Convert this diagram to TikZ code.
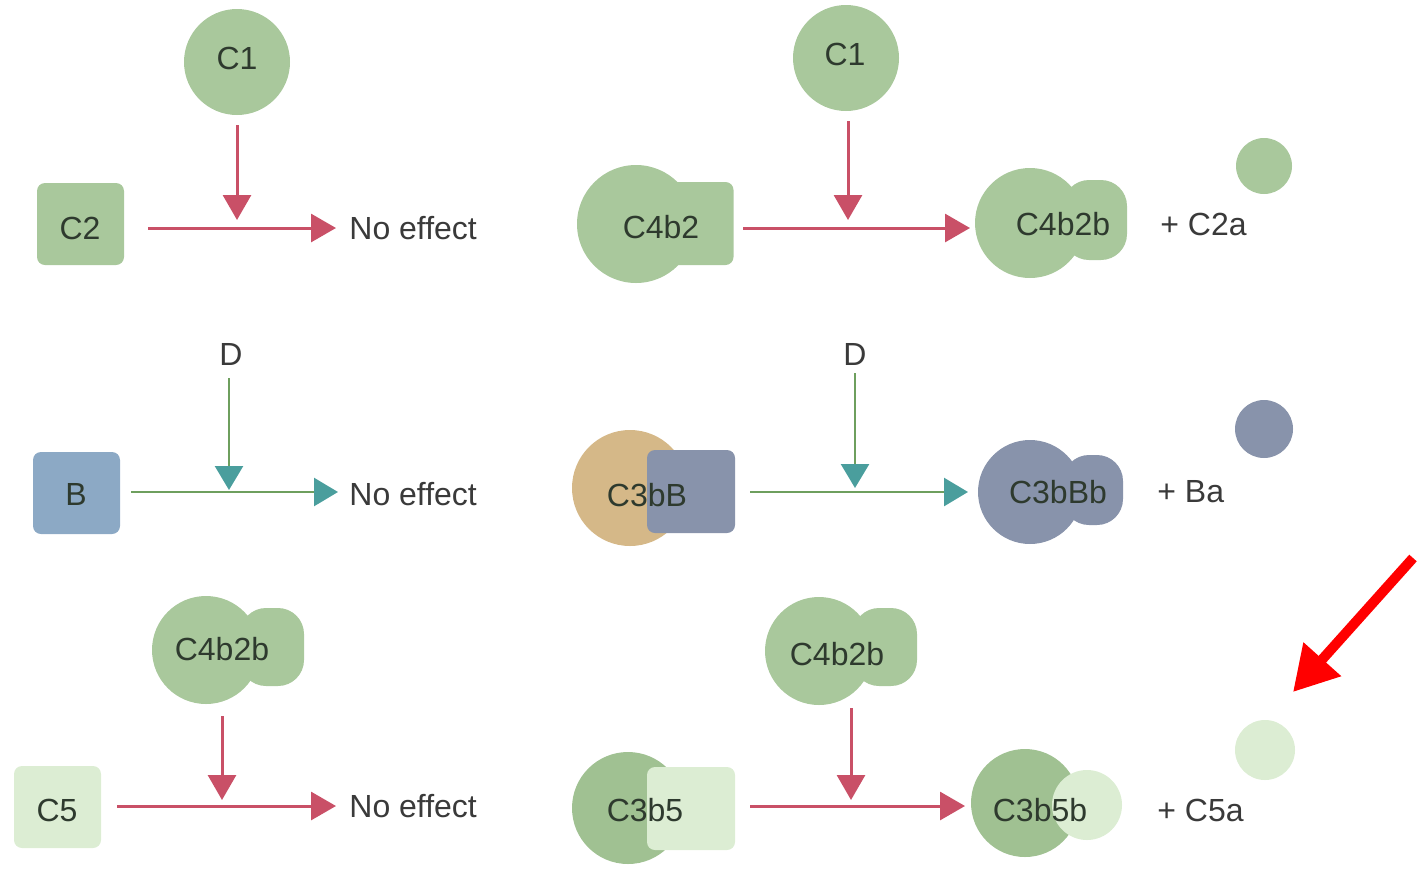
\documentclass[tikz,border=0pt]{standalone}
\usepackage{fontspec}
\setmainfont{Liberation Sans}
\usetikzlibrary{arrows.meta}
\definecolor{sage}{HTML}{A9C89C}
\definecolor{sagedark}{HTML}{A0C192}
\definecolor{lightg}{HTML}{DCEDD3}
\definecolor{slate}{HTML}{8893AB}
\definecolor{bluebox}{HTML}{8CA9C5}
\definecolor{tan}{HTML}{D5B888}
\definecolor{crim}{HTML}{C95067}
\definecolor{lgreen}{HTML}{6E9F5E}
\definecolor{teal}{HTML}{4A9E9D}
\definecolor{txt}{HTML}{3A3A3A}
\definecolor{intxt}{HTML}{2E3A2E}
\tikzset{
  blob/.style={circle,fill=#1,draw=none,inner sep=0pt},
  box/.style={rectangle,fill=#1,draw=none,rounded corners=4pt,inner sep=0pt},
  lbl/.style={text=intxt,font=\fontsize{16}{19}\selectfont,inner sep=0pt},
  plain/.style={text=txt,font=\fontsize{16}{19}\selectfont,inner sep=0pt,anchor=west},
  redarr/.style={draw=crim,line width=1.5pt,-{Triangle[length=12.5pt,width=14pt,color=crim]}},
  grnarr/.style={draw=lgreen,line width=1.3pt,-{Triangle[length=12pt,width=14pt,color=teal]}},
}
\begin{document}
\begin{tikzpicture}[x=0.5pt,y=-0.5pt]
\useasboundingbox (0,0) rectangle (1428,868);

% ---------------- Row 1 left
\node[blob=sage,minimum size=53pt] (c1a) at (237,62) {};
\node[lbl] (c1al) at (237,58) {C1};
\node[box=sage,minimum width=43.5pt,minimum height=41pt] (c2) at (80.5,224) {};
\node[lbl] (c2l) at (80,228) {C2};
\node[plain] (ne1) at (349,228) {No effect};
\coordinate (s1) at (148,228);
\coordinate (e1) at (336,228);
\coordinate (j1) at (237,220);
\draw[redarr] (s1) -- (e1);
\draw[redarr] (237,125) -- (j1);

% ---------------- Row 1 right
\node[blob=sage,minimum size=53pt] (c1b) at (846,58) {};
\node[lbl] (c1bl) at (845,54) {C1};
\node[blob=sage,minimum size=59pt] (c4b2c) at (636,224) {};
\node[box=sage,minimum width=37pt,minimum height=41.5pt] (c4b2r) at (696.5,223.5) {};
\node[lbl] (c4b2l) at (661,227) {C4b2};
\coordinate (s2) at (743,228);
\coordinate (e2) at (970,228);
\draw[redarr] (s2) -- (e2);
\coordinate (j2) at (848,220);
\draw[redarr] (848,121) -- (j2);
\node[blob=sage,minimum size=55pt] (c4b2bc) at (1030,223) {};
\node[box=sage,rounded corners=13pt,minimum width=32pt,minimum height=40pt] (c4b2br) at (1095,220) {};
\node[lbl] (c4b2bl) at (1063,224) {C4b2b};
\node[plain] (p1) at (1160,224) {+ C2a};
\node[blob=sage,minimum size=28pt] (c2a) at (1264,166) {};

% ---------------- Row 2 left
\node[text=txt,font=\fontsize{16}{19}\selectfont,inner sep=0pt] (d1) at (231,354) {D};
\node[box=bluebox,minimum width=43.5pt,minimum height=41pt] (b) at (76.5,493) {};
\node[lbl] (bl) at (76,494) {B};
\node[plain] (ne2) at (349,494) {No effect};
\coordinate (s3) at (131,492);
\coordinate (e3) at (338,492);
\draw[grnarr] (s3) -- (e3);
\coordinate (j3) at (229,490);
\draw[grnarr] (229,378) -- (j3);

% ---------------- Row 2 right
\node[text=txt,font=\fontsize{16}{19}\selectfont,inner sep=0pt] (d2) at (855,354) {D};
\node[blob=tan,minimum size=58pt] (c3bbc) at (630,488) {};
\node[box=slate,minimum width=44pt,minimum height=41.5pt] (c3bbr) at (691,491.5) {};
\node[lbl] (c3bbl) at (647,495) {C3bB};
\coordinate (s4) at (750,492);
\coordinate (e4) at (968,492);
\draw[grnarr] (s4) -- (e4);
\coordinate (j4) at (855,488);
\draw[grnarr] (855,373) -- (j4);
\node[blob=slate,minimum size=52pt] (c3bbbc) at (1030,492) {};
\node[box=slate,rounded corners=13pt,minimum width=30pt,minimum height=35pt] (c3bbbr) at (1093,490) {};
\node[lbl] (c3bbbl) at (1058,492) {C3bBb};
\node[plain] (p2) at (1157,492) {+ Ba};
\node[blob=slate,minimum size=29pt] (ba) at (1264,429) {};

% ---------------- Row 3 left
\node[blob=sage,minimum size=54pt] (c4b2bac) at (206,650) {};
\node[box=sage,rounded corners=13pt,minimum width=32pt,minimum height=39pt] (c4b2bar) at (272,647) {};
\node[lbl] (c4b2bal) at (222,649) {C4b2b};
\node[box=lightg,minimum width=43.5pt,minimum height=41pt] (c5) at (57.5,807) {};
\node[lbl] (c5l) at (57,810) {C5};
\node[plain] (ne3) at (349,806) {No effect};
\coordinate (s5) at (117,806);
\coordinate (e5) at (336,806);
\draw[redarr] (s5) -- (e5);
\coordinate (j5) at (222,800);
\draw[redarr] (222,716) -- (j5);

% ---------------- Row 3 right
\node[blob=sage,minimum size=54pt] (c4b2bbc) at (819,651) {};
\node[box=sage,rounded corners=13pt,minimum width=32pt,minimum height=39pt] (c4b2bbr) at (885,647) {};
\node[lbl] (c4b2bbl) at (837,654) {C4b2b};
\node[blob=sagedark,minimum size=56pt] (c3b5c) at (628,808) {};
\node[box=lightg,minimum width=44pt,minimum height=41.5pt] (c3b5r) at (691,808.5) {};
\node[lbl] (c3b5l) at (645,810) {C3b5};
\coordinate (s6) at (750,806);
\coordinate (e6) at (965,806);
\draw[redarr] (s6) -- (e6);
\coordinate (j6) at (851,800);
\draw[redarr] (851,708) -- (j6);
\node[blob=sagedark,minimum size=54pt] (c3b5bc) at (1025,803) {};
\node[blob=lightg,minimum size=35pt] (c3b5br) at (1087,805) {};
\node[lbl] (c3b5bl) at (1040,810) {C3b5b};
\node[plain] (p3) at (1157,810) {+ C5a};
\node[blob=lightg,minimum size=30pt] (c5a) at (1265,750) {};

% ---------------- red pointer arrow
\coordinate (ra1) at (1413,558);
\coordinate (ra2) at (1293,692);
\draw[draw=red,line width=5pt,-{Triangle[length=22pt,width=24pt,color=red]}] (ra1) -- (ra2);
\end{tikzpicture}
\end{document}
